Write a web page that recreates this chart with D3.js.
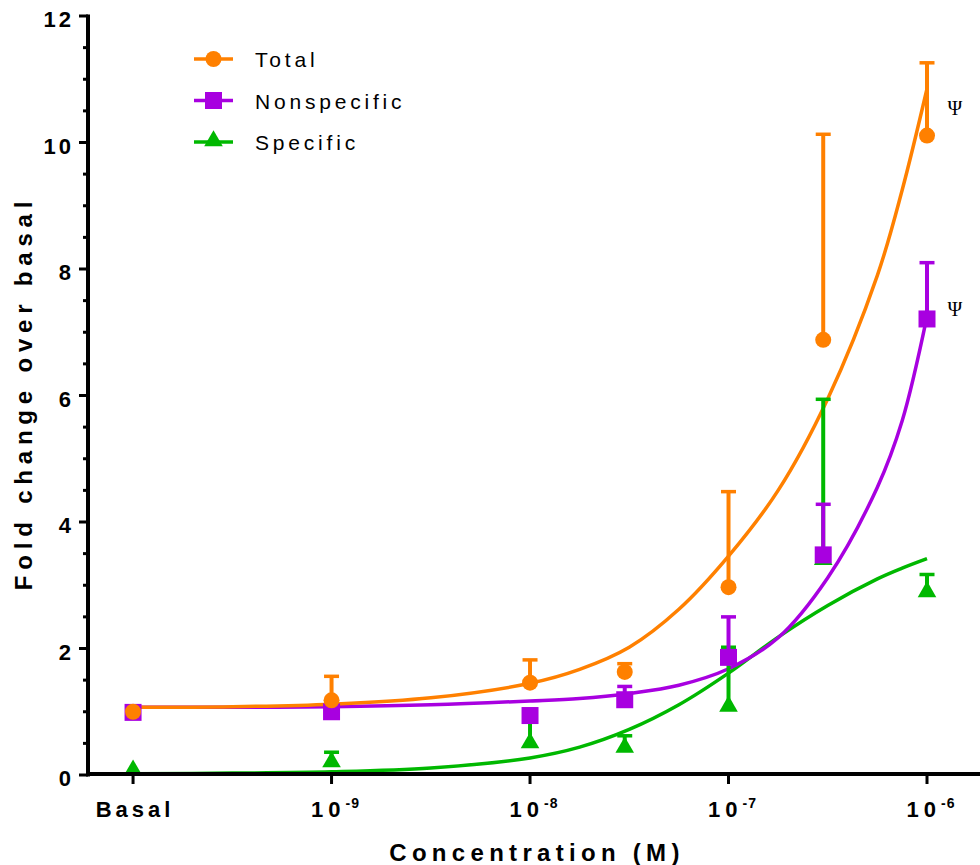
<!DOCTYPE html>
<html>
<head>
<meta charset="utf-8">
<script src="https://cdn.jsdelivr.net/npm/d3@7"></script>
<style>
  body { margin: 0; background: #fff; }
  svg { display: block; font-family: "Liberation Sans", Arial, sans-serif; }
</style>
</head>
<body>
<svg id="chart" width="980" height="865"></svg>
<script>
// concentrations (M); Basal is plotted at 1e-10
const conc = [1e-10, 1e-9, 1e-8, 3e-8, 1e-7, 3e-7, 1e-6];

const totalMean = [1.0, 1.18, 1.46, 1.63, 2.97, 6.88, 10.11];
const totalSem  = [0, 0.38, 0.36, 0.13, 1.51, 3.25, 1.15];

const nonspecMean = [0.99, 1.0, 0.94, 1.19, 1.86, 3.48, 7.21];
const nonspecSem  = [0, 0.05, 0.1, 0.21, 0.64, 0.80, 0.89];

const specMean = [0.1, 0.23, 0.53, 0.46, 1.11, 3.43, 2.92];
const specSem  = [0, 0.13, 0.37, 0.16, 0.91, 2.51, 0.25];

// fitted curves (log10 M -> fold)
const fitLogX     = [-10, -9.5, -9, -8.5, -8, -7.75, -7.5, -7.25, -7, -6.75, -6.5, -6.25, -6.125, -6];
const totalFit    = [1.07, 1.08, 1.12, 1.22, 1.45, 1.67, 2.02, 2.62, 3.46, 4.5, 5.95, 7.9, 9.25, 10.85];
const nonspecFit  = [1.07, 1.07, 1.08, 1.11, 1.17, 1.21, 1.29, 1.42, 1.68, 2.17, 3.12, 4.55, 5.6, 7.25];
const specFit     = [0.02, 0.03, 0.05, 0.11, 0.27, 0.44, 0.72, 1.11, 1.61, 2.18, 2.68, 3.1, 3.27, 3.42];

const xTicks = [1e-10, 1e-9, 1e-8, 1e-7, 1e-6];
const xTickExp = ["", "-9", "-8", "-7", "-6"];
const yTicks = [0, 2, 4, 6, 8, 10, 12];

const seriesNames = ["Total", "Nonspecific", "Specific"];
const psiMarks = [{c: 1e-6, v: 10.55}, {c: 1e-6, v: 7.37}];

const colors = {Total: "#ff8000", Nonspecific: "#a800e0", Specific: "#00b800"};

const svg = d3.select("#chart");

const x = d3.scaleLog()
    .domain([Math.pow(10, -10.227), Math.pow(10, -5.733)])
    .range([88, 980]);
const y = d3.scaleLinear().domain([0, 12]).range([775, 16]);

const series = [
    {name: "Specific", mean: specMean, sem: specSem, fit: specFit, shape: "triangle"},
    {name: "Nonspecific", mean: nonspecMean, sem: nonspecSem, fit: nonspecFit, shape: "square"},
    {name: "Total", mean: totalMean, sem: totalSem, fit: totalFit, shape: "circle"},
];

const symbolFor = shape => {
    if (shape === "circle") return d3.symbol().type(d3.symbolCircle).size(Math.PI * 8 * 8);
    if (shape === "square") return d3.symbol().type(d3.symbolSquare).size(17 * 17);
    return d3.symbol().type(d3.symbolTriangle).size(150);
};

const line = d3.line()
    .x(d => x(Math.pow(10, d[0])))
    .y(d => y(d[1]))
    .curve(d3.curveCatmullRom.alpha(0.5));

// curves
series.forEach(s => {
    svg.append("path")
        .datum(fitLogX.map((lx, i) => [lx, s.fit[i]]))
        .attr("d", line)
        .attr("fill", "none")
        .attr("stroke", colors[s.name])
        .attr("stroke-width", 3.5);
});

// error bars + points
series.forEach(s => {
    const g = svg.append("g");
    const c = colors[s.name];
    conc.forEach((cv, i) => {
        if (s.sem[i] > 0) {
            const px = x(cv), top = y(s.mean[i] + s.sem[i]);
            g.append("line").attr("x1", px).attr("x2", px)
                .attr("y1", y(s.mean[i])).attr("y2", top)
                .attr("stroke", c).attr("stroke-width", 4);
            g.append("line").attr("x1", px - 7.5).attr("x2", px + 7.5)
                .attr("y1", top).attr("y2", top)
                .attr("stroke", c).attr("stroke-width", 3.5);
        }
    });
    g.selectAll("path.pt")
        .data(conc.map((cv, i) => [cv, s.mean[i]]))
        .join("path")
        .attr("class", "pt")
        .attr("d", symbolFor(s.shape))
        .attr("transform", d => `translate(${x(d[0])},${y(d[1]) + (s.shape === "triangle" ? 1.5 : 0)})`)
        .attr("fill", c);
});

// psi annotations
svg.selectAll("text.psi")
    .data(psiMarks)
    .join("text")
    .attr("class", "psi")
    .attr("x", d => x(d.c) + 28)
    .attr("y", d => y(d.v) + 7)
    .attr("text-anchor", "middle")
    .attr("font-family", "'Liberation Serif', 'DejaVu Serif', serif")
    .attr("font-size", 20)
    .text("\u03A8");

// y axis
const yAxis = svg.append("g");
yAxis.append("line")
    .attr("x1", 88).attr("x2", 88)
    .attr("y1", y(12) - 1.5).attr("y2", y(0) + 1.5)
    .attr("stroke", "#000").attr("stroke-width", 4);
d3.range(0, 12.01, 0.5).forEach(v => {
    const major = v % 2 === 0;
    yAxis.append("line")
        .attr("x1", major ? 79 : 83).attr("x2", 88)
        .attr("y1", y(v)).attr("y2", y(v))
        .attr("stroke", "#000").attr("stroke-width", 3);
});
yAxis.selectAll("text")
    .data(yTicks)
    .join("text")
    .attr("x", 74)
    .attr("y", d => y(d) + 11)
    .attr("text-anchor", "end")
    .attr("font-size", 22)
    .attr("font-weight", "bold")
    .attr("letter-spacing", 3)
    .text(d => d);

// x axis
const xAxis = svg.append("g");
xAxis.append("line")
    .attr("x1", 86).attr("x2", 980)
    .attr("y1", 774).attr("y2", 774)
    .attr("stroke", "#000").attr("stroke-width", 4);
xTicks.forEach((t, i) => {
    xAxis.append("line")
        .attr("x1", x(t)).attr("x2", x(t))
        .attr("y1", 774).attr("y2", 784)
        .attr("stroke", "#000").attr("stroke-width", 3);
    const lab = xAxis.append("text")
        .attr("x", x(t) + (i === 0 ? 2 : 4))
        .attr("y", 817)
        .attr("text-anchor", "middle")
        .attr("font-size", 22)
        .attr("font-weight", "bold")
        .attr("letter-spacing", i === 0 ? 4 : 5);
    if (i === 0) {
        lab.text("Basal");
    } else {
        lab.append("tspan").text("10");
        lab.append("tspan").attr("dy", -9).attr("font-size", 14)
            .attr("letter-spacing", 1).text(xTickExp[i]);
    }
});

// axis titles
svg.append("text")
    .attr("x", 537).attr("y", 861)
    .attr("text-anchor", "middle")
    .attr("font-size", 24).attr("font-weight", "bold")
    .attr("letter-spacing", 5.3)
    .text("Concentration (M)");
svg.append("text")
    .attr("transform", "translate(32,393) rotate(-90)")
    .attr("text-anchor", "middle")
    .attr("font-size", 24).attr("font-weight", "bold")
    .attr("letter-spacing", 5.8)
    .text("Fold change over basal");

// legend
const legendShapes = {Total: "circle", Nonspecific: "square", Specific: "triangle"};
const legend = svg.append("g");
seriesNames.forEach((n, i) => {
    const ly = 59 + i * 41.5;
    legend.append("line")
        .attr("x1", 194).attr("x2", 233)
        .attr("y1", ly).attr("y2", ly)
        .attr("stroke", colors[n]).attr("stroke-width", 3.5);
    legend.append("path")
        .attr("d", symbolFor(legendShapes[n])())
        .attr("transform", `translate(213.5,${ly + (n === "Specific" ? -1 : 0)})`)
        .attr("fill", colors[n]);
    legend.append("text")
        .attr("x", 255).attr("y", ly + 8)
        .attr("font-size", 21)
        .attr("letter-spacing", 3.8)
        .text(n);
});
</script>
</body>
</html>
